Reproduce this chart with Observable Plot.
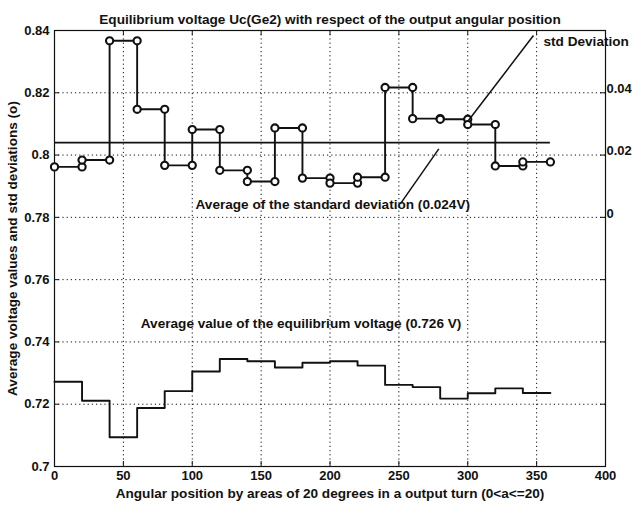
<!DOCTYPE html>
<html>
<head>
<meta charset="utf-8">
<script src="https://cdn.jsdelivr.net/npm/d3@7"></script>
<script src="https://cdn.jsdelivr.net/npm/@observablehq/plot@0.6"></script>
<style>
  html, body { margin: 0; padding: 0; background: #fff; }
  #chart svg { display: block; }
</style>
</head>
<body>
<div id="chart"></div>
<script>
// ---- data ----
const angles = [0, 20, 40, 60, 80, 100, 120, 140, 160, 180, 200, 220, 240, 260, 280, 300, 320, 340];
const areaWidth = 20;
// average equilibrium voltage per area (V)
const avgVoltage = [0.7272, 0.7211, 0.7094, 0.7188, 0.7242, 0.7305, 0.7345, 0.7338, 0.7318,
                    0.7333, 0.7338, 0.7324, 0.7262, 0.7255, 0.7218, 0.7235, 0.7251, 0.7236];
// standard deviation per area (V), read on the right-hand axis
const stdDev = [0.0162, 0.0184, 0.0567, 0.0347, 0.0167, 0.0282, 0.0151, 0.0115, 0.0287,
                0.0126, 0.0110, 0.0129, 0.0417, 0.0317, 0.0315, 0.0298, 0.0165, 0.0178];
const stdMean = 0.024;
const stdAxisZero = 0.78;   // right axis 0 sits at left-axis 0.78

const xTicks = [0, 50, 100, 150, 200, 250, 300, 350, 400];
const xTickLabels = ["0", "50", "100", "150", "200", "250", "300", "350", "400"];
const yTicks = [0.7, 0.72, 0.74, 0.76, 0.78, 0.8, 0.82, 0.84];
const yTickLabels = ["0.7", "0.72", "0.74", "0.76", "0.78", "0.8", "0.82", "0.84"];
const rightTicks = [0, 0.02, 0.04];
const rightTickLabels = ["0", "0.02", "0.04"];
const xGrid = [50, 100, 150, 200, 250, 300, 350];
const yGrid = [0.72, 0.74, 0.76, 0.78, 0.8, 0.82];

const titleText = "Equilibrium voltage Uc(Ge2) with respect of the output angular position";
const xLabelText = "Angular position by areas of 20 degrees in a output turn (0<a<=20)";
const yLabelText = "Average voltage values and std deviations (o)";

// annotations: label text + pointer (in data coordinates)
const stdNote = [{text: "std Deviation", x: 355, y: 0.8365}];
const centeredNotes = [
  {text: "Average of the standard deviation (0.024V)", x: 202, y: 0.7841},
  {text: "Average value of the equilibrium voltage (0.726 V)", x: 179, y: 0.7459}
];
const pointers = [
  {x1: 347.7, y1: 0.8384, x2: 300.5, y2: 0.8111},
  {x1: 279, y1: 0.802, x2: 251.2, y2: 0.7844}
];

// ---- derived tables ----
const stairs = (vals, off = 0) => angles.flatMap((a, i) => [
  {x: a, y: off + vals[i]},
  {x: a + areaWidth, y: off + vals[i]}
]);
const stdPts = stairs(stdDev, stdAxisZero);
const avgPts = stairs(avgVoltage);
const meanLine = [{x1: angles[0], x2: angles[angles.length - 1] + areaWidth, y: stdAxisZero + stdMean}];

const W = 632, H = 505, mL = 54, mR = 27, mT = 30, mB = 39;
const pw = W - mL - mR, ph = H - mT - mB;
const font = "'Liberation Sans', Arial, Helvetica, sans-serif";
const ink = "#111";
const fs = 13.6;
const fsTick = 13;

const chart = Plot.plot({
  width: W, height: H,
  marginLeft: mL, marginRight: mR, marginTop: mT, marginBottom: mB,
  style: {fontFamily: font, fontSize: fs + "px", fontWeight: "bold", color: ink, background: "#fff"},
  x: {domain: [0, 400], label: null},
  y: {domain: [0.7, 0.84], label: null},
  marks: [
    // grid
    Plot.ruleX(xGrid, {stroke: ink, strokeDasharray: "1.2,3", strokeWidth: 1}),
    Plot.ruleY(yGrid, {stroke: ink, strokeDasharray: "1.2,3", strokeWidth: 1}),
    // inward ticks
    Plot.ruleX(xTicks, {stroke: ink, insetTop: ph - 5}),
    Plot.ruleX(xTicks, {stroke: ink, insetBottom: ph - 5}),
    Plot.ruleY(yTicks, {stroke: ink, insetRight: pw - 5}),
    Plot.ruleY(yTicks, {stroke: ink, insetLeft: pw - 5}),
    Plot.frame({stroke: ink, strokeWidth: 1.2}),
    // axes labels
    Plot.axisX(xTicks, {tickSize: 0, tickPadding: 4, tickFormat: (d, i) => xTickLabels[i], fontSize: fsTick, fontWeight: "bold"}),
    Plot.axisY(yTicks, {tickSize: 0, tickPadding: 5, tickFormat: (d, i) => yTickLabels[i], fontSize: fsTick, fontWeight: "bold"}),
    Plot.text(rightTicks, {y: d => stdAxisZero + d, text: (d, i) => rightTickLabels[i], frameAnchor: "right", textAnchor: "start", dx: 1, dy: -4, fontSize: fsTick, fontWeight: "bold", fill: ink}),
    // std deviation stairs with circles
    Plot.line(stdPts, {x: "x", y: "y", stroke: ink, strokeWidth: 1.9}),
    Plot.ruleY(meanLine, {x1: "x1", x2: "x2", y: "y", stroke: ink, strokeWidth: 1.9}),
    Plot.dot(stdPts, {x: "x", y: "y", r: 3.6, fill: "#fff", stroke: ink, strokeWidth: 2.1}),
    // average voltage stairs
    Plot.line(avgPts, {x: "x", y: "y", stroke: ink, strokeWidth: 1.9}),
    // annotations
    Plot.link(pointers, {x1: "x1", y1: "y1", x2: "x2", y2: "y2", stroke: ink, strokeWidth: 1.5}),
    Plot.text(stdNote, {x: "x", y: "y", text: "text", textAnchor: "start", fontSize: fs, fontWeight: "bold", fill: ink}),
    Plot.text(centeredNotes, {x: "x", y: "y", text: "text", textAnchor: "middle", fontSize: fs, fontWeight: "bold", fill: ink}),
    // title and axis titles
    Plot.text([titleText], {text: d => d, frameAnchor: "top", textAnchor: "middle", dy: -16, fontSize: fs, fontWeight: "bold", fill: ink}),
    Plot.text([xLabelText], {text: d => d, frameAnchor: "bottom", textAnchor: "middle", dy: 31, fontSize: fs, fontWeight: "bold", fill: ink}),
    Plot.text([yLabelText], {text: d => d, frameAnchor: "left", textAnchor: "middle", dx: -42, rotate: -90, fontSize: fs, fontWeight: "bold", fill: ink})
  ]
});
document.getElementById("chart").appendChild(chart);
</script>
</body>
</html>
